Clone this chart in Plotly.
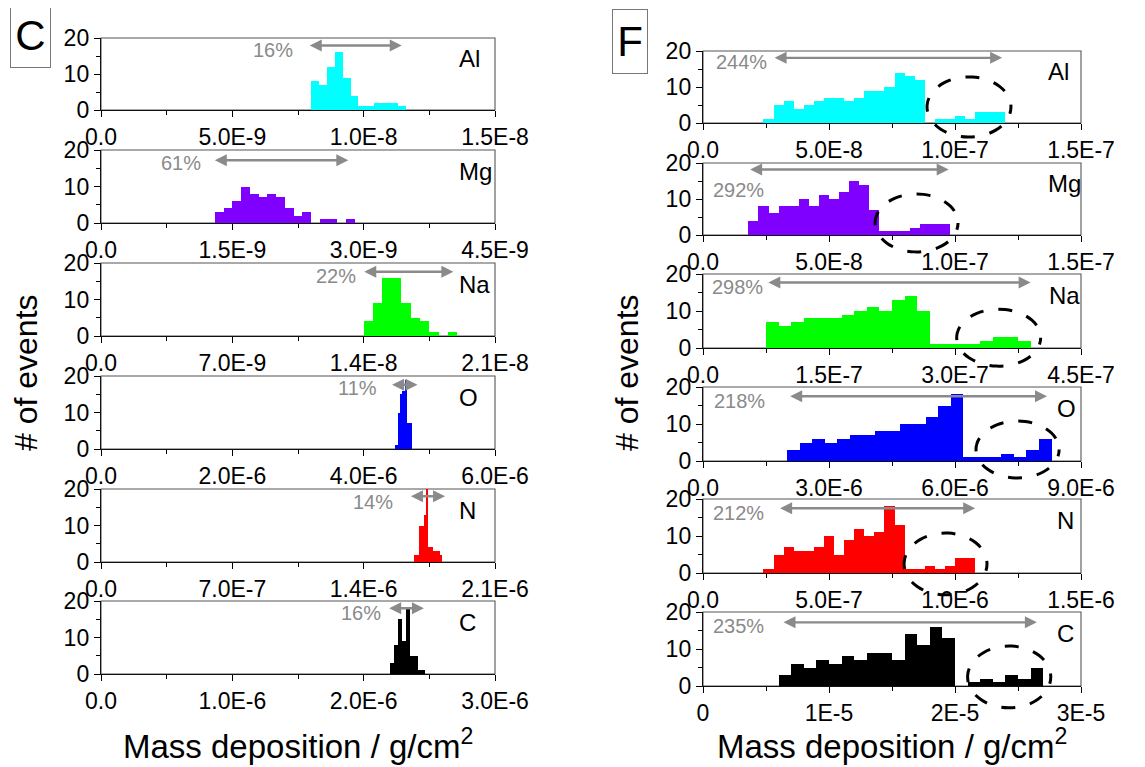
import plotly.graph_objects as go

# ---------------- data ----------------
elements = ["Al", "Mg", "Na", "O", "N", "C"]

# Panel C (left column): histogram bins
c_bin_start = [8.0e-9, 1.3e-9, 1.4e-8, 4.48e-6, 1.67e-6, 2.2e-6]
c_bin_width = [3.0e-10, 1.0e-10, 5.0e-10, 3.6e-8, 1.25e-8, 3.0e-8]
c_counts_al = [8, 7, 12, 16, 9, 4, 1, 1, 2, 2, 2, 1]
c_counts_mg = [3, 4, 6, 10, 8, 7, 8, 7, 4, 2, 3, 0, 1, 1, 0, 1]
c_counts_na = [4, 9, 16, 16, 9, 5, 4, 1, 0, 1]
c_counts_o = [1, 10, 15, 16, 19, 7, 7]
c_counts_n = [2, 2, 10, 10, 13, 20, 4, 4, 3, 3, 3, 2]
c_counts_c = [3, 8, 15, 9, 18, 5, 5, 1, 1]
c_percent = ["16%", "61%", "22%", "11%", "14%", "16%"]
c_xmax = [1.5e-8, 4.5e-9, 2.1e-8, 6.0e-6, 2.1e-6, 3.0e-6]
c_tickvals = [
    [0, 5.0e-9, 1.0e-8, 1.5e-8],
    [0, 1.5e-9, 3.0e-9, 4.5e-9],
    [0, 7.0e-9, 1.4e-8, 2.1e-8],
    [0, 2.0e-6, 4.0e-6, 6.0e-6],
    [0, 7.0e-7, 1.4e-6, 2.1e-6],
    [0, 1.0e-6, 2.0e-6, 3.0e-6],
]
c_ticktext = [
    ["0.0", "5.0E-9", "1.0E-8", "1.5E-8"],
    ["0.0", "1.5E-9", "3.0E-9", "4.5E-9"],
    ["0.0", "7.0E-9", "1.4E-8", "2.1E-8"],
    ["0.0", "2.0E-6", "4.0E-6", "6.0E-6"],
    ["0.0", "7.0E-7", "1.4E-6", "2.1E-6"],
    ["0.0", "1.0E-6", "2.0E-6", "3.0E-6"],
]

# Panel F (right column): histogram bins
f_bin_start = [2.4e-8, 1.8e-8, 7.5e-8, 2.0e-6, 2.4e-7, 6.0e-6]
f_bin_width = [4.0e-9, 4.0e-9, 1.5e-8, 3.0e-7, 4.0e-8, 1.0e-6]
f_counts_al = [1, 5, 6, 4, 5, 6, 7, 7, 6, 7, 9, 9, 10, 14, 13, 12, 0, 1, 1, 2, 1, 3, 3, 3]
f_counts_mg = [4, 8, 6, 8, 8, 10, 8, 11, 10, 12, 15, 14, 7, 1, 1, 1, 2, 3, 3, 3]
f_counts_na = [7, 6, 7, 8, 8, 8, 9, 10, 11, 10, 13, 14, 10, 1, 1, 1, 1, 2, 3, 3, 2]
f_counts_o = [3, 5, 6, 5, 6, 7, 7, 8, 8, 10, 10, 12, 15, 18, 1, 1, 1, 2, 1, 3, 6]
f_counts_n = [1, 5, 7, 6, 6, 7, 10, 5, 9, 12, 10, 11, 18, 13, 1, 1, 2, 1, 2, 4, 4]
f_counts_c = [3, 6, 5, 7, 6, 8, 7, 9, 9, 7, 14, 11, 16, 13, 0, 1, 2, 1, 3, 2, 5]
f_percent = ["244%", "292%", "298%", "218%", "212%", "235%"]
f_xmax = [1.5e-7, 1.5e-7, 4.5e-7, 9.0e-6, 1.5e-6, 3.0e-5]
f_tickvals = [
    [0, 5.0e-8, 1.0e-7, 1.5e-7],
    [0, 5.0e-8, 1.0e-7, 1.5e-7],
    [0, 1.5e-7, 3.0e-7, 4.5e-7],
    [0, 3.0e-6, 6.0e-6, 9.0e-6],
    [0, 5.0e-7, 1.0e-6, 1.5e-6],
    [0, 1.0e-5, 2.0e-5, 3.0e-5],
]
f_ticktext = [
    ["0.0", "5.0E-8", "1.0E-7", "1.5E-7"],
    ["0.0", "5.0E-8", "1.0E-7", "1.5E-7"],
    ["0.0", "1.5E-7", "3.0E-7", "4.5E-7"],
    ["0.0", "3.0E-6", "6.0E-6", "9.0E-6"],
    ["0.0", "5.0E-7", "1.0E-6", "1.5E-6"],
    ["0", "1E-5", "2E-5", "3E-5"],
]

y_tickvals = [0, 10, 20]
y_ticktext = ["0", "10", "20"]

colors = ["#00FFFF", "#8000FF", "#00FF00", "#0000FF", "#FF0000", "#000000"]

# ------------- annotation geometry (data units) -------------
# spread arrows: (start, end, y)
c_arrows = [(7.89e-9, 1.145e-8, 17.9), (1.283e-9, 2.825e-9, 17.2), (1.395e-8, 1.878e-8, 17.6),
            (4.41e-6, 4.82e-6, 17.6), (1.644e-6, 1.834e-6, 18.0), (2.183e-6, 2.459e-6, 18.0)]
f_arrows = [(2.78e-8, 1.187e-7, 18.1), (1.81e-8, 9.75e-8, 18.2), (7.6e-8, 3.9e-7, 17.7),
            (2.04e-6, 8.19e-6, 17.5), (3.0e-7, 1.08e-6, 17.5), (6.27e-6, 2.65e-5, 17.2)]
# percent labels: (right end x, y)
c_pct_pos = [(7.37e-9, 16.6), (1.169e-9, 16.4), (1.372e-8, 16.5),
             (4.24e-6, 16.6), (1.567e-6, 16.5), (2.15e-6, 16.7)]
f_pct_pos = [(2.61e-8, 16.9), (2.5e-8, 12.6), (7.4e-8, 16.6),
             (1.52e-6, 16.1), (2.5e-7, 16.2), (5.0e-6, 16.3)]
# dashed ellipses around the tails (x0, x1, y0, y1)
f_ellipses = [(8.89e-8, 1.222e-7, -3.9, 12.8), (6.83e-8, 1.012e-7, -4.7, 11.4),
              (3.02e-7, 4.02e-7, -4.9, 10.5), (6.5e-6, 8.48e-6, -4.6, 10.8),
              (7.98e-7, 1.127e-6, -5.9, 10.8), (2.1e-5, 2.76e-5, -5.9, 10.8)]

# ------------- layout geometry (window pixels) -------------
WIN_W, WIN_H = 1145, 767
OFF = 8                      # default page body margin
FW, FH = WIN_W - OFF, WIN_H - OFF


def fx(p):
    return (p - OFF) / FW


def fy(p):
    return 1 - (p - OFF) / FH


left_x = (101, 495)
right_x = (703, 1081)
left_rows = [(38, 110), (150, 223), (263, 336), (376, 449), (489, 562), (601, 674)]
right_rows = [(51, 123), (163, 235), (274, 348), (387, 461), (499, 573), (612, 686)]
c_label_x = [0.904] * 6
f_label_x = [0.907, 0.907, 0.910, 0.931, 0.931, 0.931]

FONT = "Liberation Sans, Arial, sans-serif"
TICK_FONT = dict(family=FONT, size=23, color="black")

c_counts = [c_counts_al, c_counts_mg, c_counts_na, c_counts_o, c_counts_n, c_counts_c]
f_counts = [f_counts_al, f_counts_mg, f_counts_na, f_counts_o, f_counts_n, f_counts_c]

fig = go.Figure()
layout = dict(
    width=FW, height=FH,
    margin=dict(l=0, r=0, t=0, b=0, autoexpand=False),
    paper_bgcolor="white", plot_bgcolor="white",
    showlegend=False,
    bargap=0,
    annotations=[], shapes=[],
)


def add_panel(k, counts, start, width, xmax, tickvals, ticktext, color, xpx, rowpx,
              arrow, pct, pct_pos, elem, label_x, ellipse):
    suffix = "" if k == 1 else str(k)
    xname, yname = "x" + suffix, "y" + suffix
    centers = [start + (i + 0.5) * width for i in range(len(counts))]
    fig.add_trace(go.Bar(x=centers, y=counts, width=width, xaxis=xname, yaxis=yname,
                         marker=dict(color=color, line=dict(width=0)), hoverinfo="skip"))
    minor_x = [(tickvals[i] + tickvals[i + 1]) / 2 for i in range(len(tickvals) - 1)]
    top, bottom = rowpx
    common = dict(
        ticks="outside", ticklen=6, tickwidth=1.3, tickcolor="black",
        showline=True, linecolor="#111", linewidth=1.4, mirror=False,
        showgrid=False, zeroline=False, tickfont=TICK_FONT, fixedrange=True,
        automargin=False,
    )
    layout["xaxis" + suffix] = dict(
        domain=[fx(xpx[0]), fx(xpx[1])], anchor=yname, range=[0, xmax],
        tickmode="array", tickvals=tickvals, ticktext=ticktext,
        minor=dict(tickmode="array", tickvals=minor_x, ticks="outside", ticklen=4,
                   tickwidth=1.2, tickcolor="black"),
        **common,
    )
    layout["yaxis" + suffix] = dict(
        domain=[fy(bottom), fy(top)], anchor=xname, range=[0, 20],
        tickmode="array", tickvals=y_tickvals, ticktext=y_ticktext,
        minor=dict(tickmode="array", tickvals=[5, 15], ticks="outside", ticklen=4,
                   tickwidth=1.2, tickcolor="black"),
        **common,
    )
    # grey frame (top / right edges)
    layout["shapes"].append(dict(
        type="rect", xref=xname + " domain", yref=yname + " domain",
        x0=0, x1=1, y0=0, y1=1, line=dict(color="#555", width=1.1), layer="below",
    ))
    x0, x1, ya = arrow
    layout["annotations"].append(dict(
        xref=xname, yref=yname, axref=xname, ayref=yname,
        x=x1, y=ya, ax=x0, ay=ya, text="", showarrow=True,
        arrowside="end+start", arrowhead=2, startarrowhead=2,
        arrowsize=1, startarrowsize=1, arrowwidth=2.4, arrowcolor="#8a8a8a",
        standoff=0, startstandoff=0,
    ))
    layout["annotations"].append(dict(
        xref=xname, yref=yname, x=pct_pos[0], y=pct_pos[1], text=pct,
        showarrow=False, xanchor="right", yanchor="middle",
        font=dict(family=FONT, size=20, color="#8a8a8a"),
    ))
    layout["annotations"].append(dict(
        xref=xname + " domain", yref=yname + " domain", x=label_x, y=0.71, text=elem,
        showarrow=False, xanchor="left", yanchor="middle",
        font=dict(family=FONT, size=24, color="black"),
    ))
    if ellipse is not None:
        ex0, ex1, ey0, ey1 = ellipse
        layout["shapes"].append(dict(
            type="circle", xref=xname + " domain", yref=yname + " domain",
            x0=ex0 / xmax, x1=ex1 / xmax, y0=ey0 / 20, y1=ey1 / 20,
            line=dict(color="black", width=3, dash="7px,15px,7px,0px"),
            layer="above",
        ))


for i in range(6):
    add_panel(i + 1, c_counts[i], c_bin_start[i], c_bin_width[i], c_xmax[i],
              c_tickvals[i], c_ticktext[i], colors[i], left_x, left_rows[i],
              c_arrows[i], c_percent[i], c_pct_pos[i], elements[i], c_label_x[i], None)
for i in range(6):
    add_panel(i + 7, f_counts[i], f_bin_start[i], f_bin_width[i], f_xmax[i],
              f_tickvals[i], f_ticktext[i], colors[i], right_x, right_rows[i],
              f_arrows[i], f_percent[i], f_pct_pos[i], elements[i], f_label_x[i], f_ellipses[i])

# axis titles
title_font = dict(family=FONT, size=33, color="black")
for cx in (298, 892):
    layout["annotations"].append(dict(
        xref="paper", yref="paper", x=fx(cx), y=fy(744),
        text="Mass deposition / g/cm<sup>2</sup>", showarrow=False,
        xanchor="center", yanchor="middle", font=title_font))
for cx in (26, 627):
    layout["annotations"].append(dict(
        xref="paper", yref="paper", x=fx(cx), y=fy(373),
        text="# of events", textangle=-90, showarrow=False,
        xanchor="center", yanchor="middle", font=dict(family=FONT, size=32, color="black")))

# panel letters
for letter, cx, cy, bw in (("C", 30, 35.5, 31), ("F", 630, 41.5, 26)):
    layout["annotations"].append(dict(
        xref="paper", yref="paper", x=fx(cx), y=fy(cy), text=letter,
        showarrow=False, xanchor="center", yanchor="middle",
        width=bw, height=55, borderpad=4, bordercolor="#777", borderwidth=1,
        font=dict(family=FONT, size=42, color="black")))

fig.update_layout(**layout)
fig.write_html("out.html")
